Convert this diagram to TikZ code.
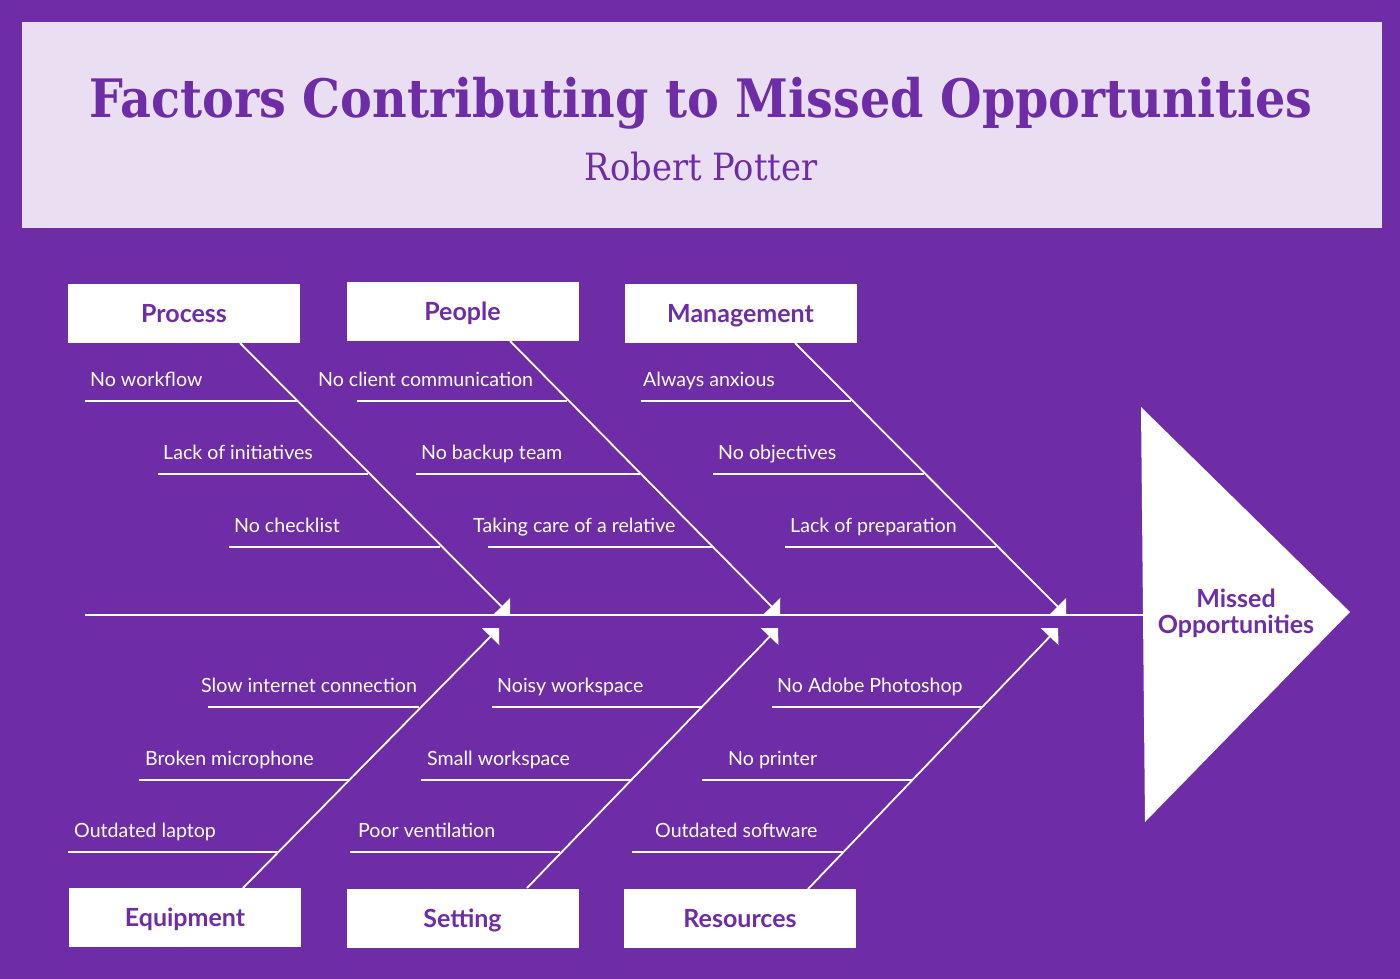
\documentclass[tikz,border=0pt]{standalone}
\usepackage{fontspec}
\setmainfont{Lato}
\newfontfamily\slab{DejaVu Serif Condensed}
\usetikzlibrary{arrows.meta}
\definecolor{bgpurple}{HTML}{6E2DA6}
\definecolor{hdr}{HTML}{EADFF2}
\newcommand\causeitem[6]{%
  \node[lbl, anchor=base west] (#1) at (#2,#3-15) {#6};
  \coordinate (#1-a) at (#4,#3);
  \coordinate (#1-b) at (#5,#3);
  \draw[sub] (#1-a) -- (#1-b);
}
\begin{document}
\begin{tikzpicture}[x=1pt,y=-1pt,
  catbox/.style={fill=white, minimum width=232pt, minimum height=59pt, inner sep=0pt,
    text height=18pt, text depth=0pt,
    text=bgpurple, font=\bfseries\fontsize{25}{30}\selectfont},
  lbl/.style={text=white, inner sep=0pt, font=\fontsize{19.6}{24}\selectfont},
  sub/.style={draw=white, line width=1.8pt},
  bone/.style={draw=white, line width=1.8pt, -{Triangle[length=12pt 0 0,width=24pt 0 0]}},
]
\useasboundingbox (0,0) rectangle (1400,979);
\fill[bgpurple] (0,0) rectangle (1400,979);
\node[fill=hdr, minimum width=1360pt, minimum height=206pt, inner sep=0pt] (header) at (702,125) {};
\node[anchor=base, text=bgpurple, inner sep=0pt, font=\slab\bfseries\fontsize{53}{60}\selectfont] (title) at (701,118) {Factors Contributing to Missed Opportunities};
\node[anchor=base, text=bgpurple, inner sep=0pt, font=\slab\fontsize{37.5}{40}\selectfont] (subtitle) at (701,180) {Robert Potter};

% categories
\node[catbox] (process) at (184,313.5) {Process};
\node[catbox] (people) at (462.5,311.5) {People};
\node[catbox] (management) at (740.5,313.5) {Management};
\node[catbox] (equipment) at (185,917.5) {Equipment};
\node[catbox] (setting) at (462.5,918) {Setting};
\node[catbox] (resources) at (740,918.5) {Resources};

% effect
\fill[white] (1141,407) -- (1350,612) -- (1145,822) -- cycle;
\node[align=center, text=bgpurple, inner sep=0pt, font=\bfseries\fontsize{25}{26}\selectfont] (effect) at (1236,613) {Missed\\Opportunities};

% spine
\coordinate (spineL) at (85,615);
\coordinate (spineR) at (1143,615);
\draw[sub] (spineL) -- (spineR);

% bone coordinates
\coordinate (pS) at (240,343);  \coordinate (pT) at (510,615);
\coordinate (eS) at (510,341);  \coordinate (eT) at (780,615);
\coordinate (mS) at (795,343);  \coordinate (mT) at (1066,615);
\coordinate (qS) at (243,888);  \coordinate (qT) at (499,628);
\coordinate (sS) at (527,888);  \coordinate (sT) at (778,628);
\coordinate (rS) at (808,889);  \coordinate (rT) at (1058,628);
\draw[bone] (pS) -- (pT);
\draw[bone] (eS) -- (eT);
\draw[bone] (mS) -- (mT);
\draw[bone] (qS) -- (qT);
\draw[bone] (sS) -- (sT);
\draw[bone] (rS) -- (rT);

% Process
\causeitem{c1}{90}{401}{85}{297}{No workflow}
\causeitem{c2}{163}{474}{158}{368}{Lack of initiatives}
\causeitem{c3}{234}{547}{229}{440}{No checklist}
% People
\causeitem{c4}{318}{401}{357}{567}{No client communication}
\causeitem{c5}{421}{474}{416}{640}{No backup team}
\causeitem{c6}{473}{547}{488}{712}{Taking care of a relative}
% Management
\causeitem{c7}{643}{401}{641}{851}{Always anxious}
\causeitem{c8}{718}{474}{713}{924}{No objectives}
\causeitem{c9}{790}{547}{785}{996}{Lack of preparation}
% Equipment
\causeitem{c10}{201}{707}{208}{419}{Slow internet connection}
\causeitem{c11}{145}{780}{139}{349}{Broken microphone}
\causeitem{c12}{74}{852}{68}{278}{Outdated laptop}
% Setting
\causeitem{c13}{497}{707}{492}{702}{Noisy workspace}
\causeitem{c14}{427}{780}{421}{632}{Small workspace}
\causeitem{c15}{358}{852}{350}{560}{Poor ventilation}
% Resources
\causeitem{c16}{777}{707}{772}{983}{No Adobe Photoshop}
\causeitem{c17}{728}{780}{702}{912}{No printer}
\causeitem{c18}{655}{852}{632}{843}{Outdated software}
\end{tikzpicture}
\end{document}
